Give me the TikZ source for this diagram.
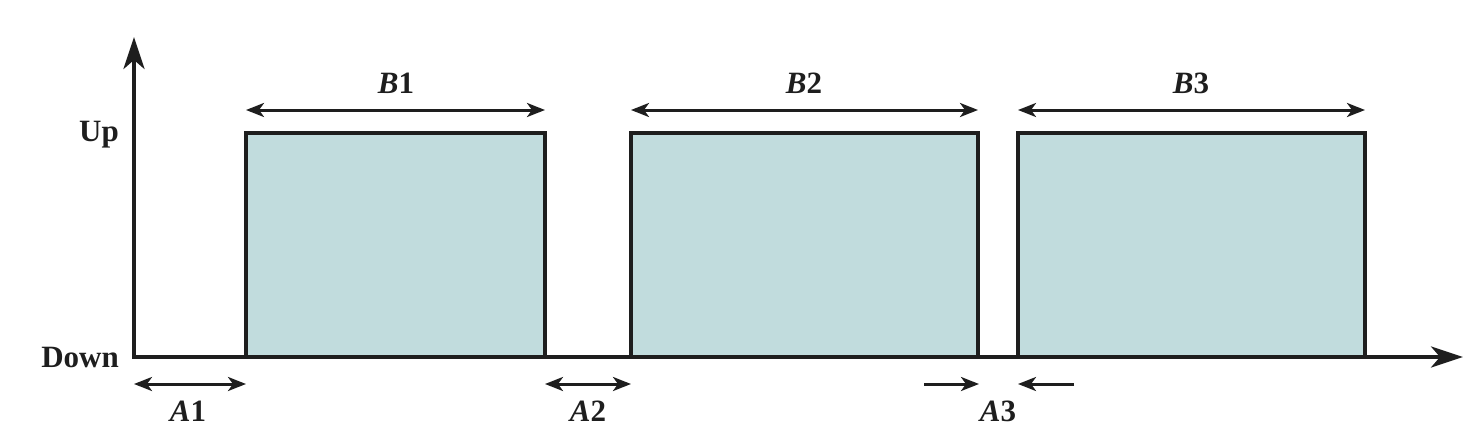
\documentclass[tikz,border=0pt]{standalone}
\usepackage{fontspec}
\setmainfont{Liberation Serif}
\usetikzlibrary{arrows.meta}
\definecolor{pulse}{RGB}{193,220,221}
\definecolor{ink}{RGB}{30,30,30}
\begin{document}
\begin{tikzpicture}[x=1pt,y=-1pt,
  axis/.style={line width=3.6pt,draw=ink,-{Stealth[length=32pt,width=21pt,inset=9pt]}},
  pulsebox/.style={fill=pulse,draw=ink,line width=3.4pt},
  dim/.style={line width=3pt,draw=ink,{Stealth[length=18pt,width=14pt,inset=5pt]}-{Stealth[length=18pt,width=14pt,inset=5pt]}},
  onedim/.style={line width=3pt,draw=ink,-{Stealth[length=18pt,width=14pt,inset=5pt]}},
  lbl/.style={font=\fontsize{31}{34}\selectfont\bfseries,text=ink,inner sep=0pt}]
\useasboundingbox (0,0) rectangle (1474,436);
% boxes
\draw[pulsebox] (246,357) rectangle (545,133);
\draw[pulsebox] (631,357) rectangle (978,133);
\draw[pulsebox] (1018,357) rectangle (1365,133);
% axes
\coordinate (O) at (134,357);
\coordinate (ytop) at (134,37);
\coordinate (xend) at (1463,357);
\draw[axis,line cap=rect] (O) -- (ytop);
\draw[axis] (O) -- (xend);
\node[lbl,anchor=east] (up) at (119,135) {Up};
\node[lbl,anchor=east] (down) at (119,357) {Down};
% B arrows
\coordinate (b1l) at (246,110); \coordinate (b1r) at (545,110);
\coordinate (b2l) at (631,110); \coordinate (b2r) at (978,110);
\coordinate (b3l) at (1018,110); \coordinate (b3r) at (1365,110);
\draw[dim] (b1l) -- (b1r);
\draw[dim] (b2l) -- (b2r);
\draw[dim] (b3l) -- (b3r);
\node[lbl] (B1) at (396,83) {\textit{B}1};
\node[lbl] (B2) at (804,83) {\textit{B}2};
\node[lbl] (B3) at (1191,83) {\textit{B}3};
% A arrows
\coordinate (a1l) at (134,384); \coordinate (a1r) at (246,384);
\coordinate (a2l) at (545,384); \coordinate (a2r) at (631,384);
\coordinate (a3a) at (924,384); \coordinate (a3b) at (979,384);
\coordinate (a3c) at (1074,384); \coordinate (a3d) at (1018,384);
\draw[dim] (a1l) -- (a1r);
\draw[dim] (a2l) -- (a2r);
\draw[onedim] (a3a) -- (a3b);
\draw[onedim] (a3c) -- (a3d);
\node[lbl] (A1) at (188,411) {\textit{A}1};
\node[lbl] (A2) at (588,411) {\textit{A}2};
\node[lbl] (A3) at (998,411) {\textit{A}3};
\end{tikzpicture}
\end{document}
